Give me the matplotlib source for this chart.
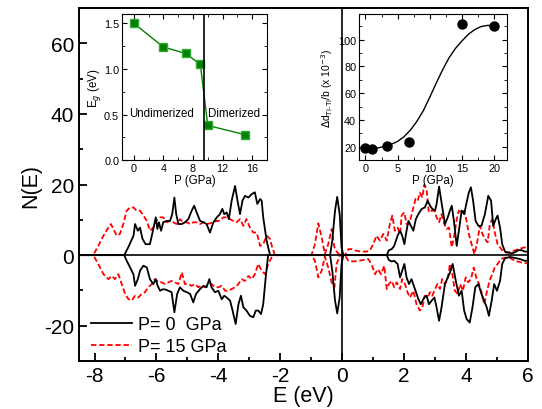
import numpy as np
import matplotlib
matplotlib.use('Agg')
import matplotlib.pyplot as plt
import matplotlib.ticker as ticker

plt.rcParams['font.family'] = ['Liberation Sans', 'DejaVu Sans']
plt.rcParams['axes.unicode_minus'] = False

# DOS, P = 0 GPa (spin up / spin down), pares (E, N)
dos_p0_up = [(-8.5, 0), (-7.04, 0), (-6.91, 2.2), (-6.74, 5.5), (-6.69, 8.8), (-6.60, 6.9), (-6.53, 7.8),
             (-6.45, 4.6), (-6.35, 3.1), (-6.21, 3.1), (-6.10, 7.4), (-6.02, 10.7), (-5.97, 7.4), (-5.92, 9.3),
             (-5.85, 6.9), (-5.78, 9.3), (-5.67, 9.7), (-5.56, 9.7), (-5.49, 11.6), (-5.42, 16.3), (-5.36, 11.6),
             (-5.29, 8.8), (-5.18, 8.8), (-5.08, 9.3), (-4.97, 10.2), (-4.86, 12.6), (-4.78, 14.0), (-4.70, 12.1),
             (-4.59, 9.7), (-4.48, 9.3), (-4.38, 8.8), (-4.27, 6.4), (-4.16, 9.3), (-4.05, 10.7), (-3.95, 11.6),
             (-3.87, 13.1), (-3.81, 11.6), (-3.73, 12.1), (-3.66, 10.2), (-3.57, 15.4), (-3.46, 19.6), (-3.38, 15.4),
             (-3.30, 11.6), (-3.22, 15.4), (-3.14, 16.8), (-3.03, 16.3), (-2.92, 17.3), (-2.82, 17.8), (-2.74, 14.5),
             (-2.65, 15.9), (-2.60, 15.4), (-2.55, 10.7), (-2.44, 4.1), (-2.33, 0),
             (-0.39, 0), (-0.32, 4.1), (-0.23, 12.6), (-0.16, 16.5), (-0.08, 11.6), (-0.02, 2.2), (0.04, 0),
             (1.44, 0), (1.51, 1.4), (1.60, 1.7), (1.68, 2.6), (1.79, 5.5), (1.87, 6.9), (1.94, 5.5), (2.01, 3.1),
             (2.08, 6.9), (2.14, 9.7), (2.22, 8.3), (2.30, 6.9), (2.38, 10.2), (2.46, 11.6), (2.57, 13.1),
             (2.67, 13.5), (2.76, 15.4), (2.84, 14.0), (2.91, 13.1), (3.00, 12.6), (3.05, 14.5), (3.13, 19.4),
             (3.21, 14.9), (3.32, 8.8), (3.41, 10.7), (3.48, 12.6), (3.54, 14.0), (3.61, 9.7), (3.70, 2.6),
             (3.77, 6.9), (3.86, 12.6), (3.94, 11.6), (4.02, 14.9), (4.09, 17.7), (4.16, 19.2), (4.23, 15.4),
             (4.31, 9.7), (4.40, 8.3), (4.50, 8.3), (4.61, 11.6), (4.72, 16.8), (4.81, 15.4), (4.88, 8.3),
             (4.96, 10.2), (5.02, 11.2), (5.10, 7.8), (5.17, 3.1), (5.26, 1.0), (5.36, 0.7), (5.47, 0.5),
             (5.58, 0.8), (5.69, 1.4), (5.80, 1.4), (5.90, 1.0), (6.03, 1.0)]

dos_p0_dn = [(-8.5, 0), (-7.04, 0), (-6.96, -1.6), (-6.85, -3.5), (-6.74, -5.5), (-6.69, -8.7), (-6.60, -6.8),
             (-6.53, -4.4), (-6.42, -3.0), (-6.31, -3.5), (-6.21, -6.8), (-6.10, -8.2), (-6.02, -6.8), (-5.96, -8.7),
             (-5.88, -10.1), (-5.81, -9.7), (-5.72, -9.7), (-5.61, -10.1), (-5.51, -10.5), (-5.42, -16.2),
             (-5.33, -11.0), (-5.24, -9.1), (-5.13, -10.1), (-5.02, -10.5), (-4.91, -11.0), (-4.81, -13.4),
             (-4.72, -11.0), (-4.59, -9.6), (-4.48, -8.7), (-4.38, -9.1), (-4.29, -6.8), (-4.22, -9.1),
             (-4.11, -10.5), (-4.00, -10.1), (-3.89, -12.5), (-3.81, -11.5), (-3.73, -12.0), (-3.62, -12.9),
             (-3.54, -15.7), (-3.44, -19.5), (-3.35, -13.9), (-3.27, -11.5), (-3.19, -14.8), (-3.09, -15.7),
             (-2.98, -17.2), (-2.87, -17.6), (-2.79, -15.7), (-2.71, -15.7), (-2.62, -16.7), (-2.55, -13.9),
             (-2.47, -6.3), (-2.39, 0),
             (-0.39, 0), (-0.32, -4.4), (-0.23, -12.9), (-0.16, -16.5), (-0.08, -12.0), (-0.02, -2.5), (0.04, 0),
             (1.44, 0), (1.51, -1.4), (1.60, -1.8), (1.68, -1.6), (1.79, -2.5), (1.87, -6.3), (1.94, -4.4),
             (2.01, -2.5), (2.08, -6.3), (2.16, -8.2), (2.24, -6.8), (2.35, -9.6), (2.46, -12.4), (2.54, -13.9),
             (2.65, -12.0), (2.73, -11.5), (2.80, -13.9), (2.89, -12.9), (2.98, -12.0), (3.05, -14.8),
             (3.13, -18.6), (3.21, -14.8), (3.32, -8.2), (3.41, -6.3), (3.48, -5.0), (3.57, -2.5), (3.66, -6.8),
             (3.77, -11.5), (3.86, -10.1), (3.94, -15.7), (4.02, -18.1), (4.12, -19.1), (4.21, -14.8),
             (4.30, -9.1), (4.40, -8.2), (4.50, -11.0), (4.67, -14.8), (4.74, -17.2), (4.83, -12.9), (4.91, -8.2),
             (5.00, -10.1), (5.10, -7.3), (5.17, -2.5), (5.26, -0.9), (5.42, -0.5), (5.58, -0.8), (5.74, -1.1),
             (5.90, -1.6), (6.03, -1.6)]

# DOS, P = 15 GPa
dos_p15_up = [(-8.5, 0), (-8.04, 0), (-7.88, 2.6), (-7.71, 5.5), (-7.55, 7.8), (-7.47, 8.8), (-7.39, 7.4),
              (-7.28, 5.5), (-7.18, 6.0), (-7.07, 8.8), (-6.96, 12.6), (-6.85, 13.5), (-6.74, 13.5), (-6.64, 12.6),
              (-6.53, 12.6), (-6.42, 11.2), (-6.31, 9.7), (-6.21, 6.9), (-6.10, 7.8), (-6.01, 9.7), (-5.88, 10.7),
              (-5.78, 10.7), (-5.67, 9.3), (-5.56, 9.7), (-5.45, 9.3), (-5.35, 8.8), (-5.24, 10.2), (-5.13, 9.3),
              (-5.02, 9.3), (-4.91, 8.8), (-4.81, 9.3), (-4.70, 9.3), (-4.59, 8.8), (-4.48, 9.3), (-4.38, 8.8),
              (-4.27, 9.0), (-4.16, 9.3), (-4.05, 9.7), (-3.95, 9.7), (-3.84, 10.7), (-3.73, 10.7), (-3.62, 10.2),
              (-3.52, 9.7), (-3.41, 9.3), (-3.30, 10.2), (-3.19, 8.3), (-3.09, 10.2), (-2.98, 7.8), (-2.87, 6.4),
              (-2.76, 6.4), (-2.65, 2.6), (-2.55, 3.1), (-2.44, 5.5), (-2.33, 4.6), (-2.26, 2.2), (-2.17, 0),
              (-0.99, 0), (-0.88, 3.1), (-0.77, 9.0), (-0.66, 5.0), (-0.56, 0.3), (-0.45, 3.1), (-0.34, 7.4),
              (-0.25, 2.2), (-0.18, 1.0), (-0.07, 0),
              (0.09, 0), (0.20, 1.7), (0.31, 1.7), (0.47, 1.2), (0.63, 1.0), (0.79, 1.0), (0.90, 1.4), (1.00, 3.1),
              (1.11, 5.5), (1.22, 4.1), (1.33, 6.0), (1.44, 4.1), (1.54, 8.8), (1.62, 11.2), (1.70, 6.9),
              (1.79, 7.8), (1.87, 6.0), (1.92, 11.2), (2.01, 12.1), (2.08, 8.8), (2.16, 8.8), (2.22, 10.7),
              (2.30, 13.5), (2.37, 15.9), (2.44, 15.4), (2.51, 17.7), (2.59, 16.3), (2.65, 19.9), (2.73, 18.3),
              (2.80, 12.1), (2.89, 12.6), (2.98, 12.6), (3.05, 10.7), (3.13, 9.3), (3.21, 11.6), (3.30, 8.8),
              (3.37, 7.4), (3.45, 7.8), (3.54, 2.2), (3.62, 5.5), (3.70, 10.2), (3.77, 12.6), (3.86, 12.1),
              (3.94, 12.6), (4.02, 9.7), (4.09, 6.0), (4.18, 3.1), (4.27, 0.3), (4.35, 3.1), (4.45, 8.3),
              (4.53, 6.0), (4.61, 4.6), (4.70, 3.6), (4.77, 8.8), (4.85, 10.2), (4.93, 6.4), (5.02, 3.1),
              (5.10, 2.2), (5.20, 1.0), (5.31, 0.7), (5.47, 1.0), (5.69, 1.7), (5.90, 2.2), (6.03, 2.2)]

dos_p15_dn = [(-8.5, 0), (-8.04, 0), (-7.88, -2.5), (-7.71, -5.4), (-7.55, -6.8), (-7.44, -5.9), (-7.34, -6.8),
              (-7.23, -5.4), (-7.12, -8.2), (-7.01, -11.0), (-6.91, -12.4), (-6.80, -12.9), (-6.69, -11.5),
              (-6.58, -12.0), (-6.48, -11.0), (-6.37, -10.5), (-6.26, -9.1), (-6.15, -8.2), (-6.05, -6.8),
              (-5.94, -7.7), (-5.83, -7.7), (-5.72, -8.2), (-5.61, -7.7), (-5.51, -7.3), (-5.40, -7.7),
              (-5.29, -8.2), (-5.18, -4.9), (-5.08, -8.2), (-4.97, -8.2), (-4.86, -8.7), (-4.75, -8.2),
              (-4.65, -9.1), (-4.54, -8.7), (-4.43, -9.1), (-4.32, -8.2), (-4.22, -8.2), (-4.11, -9.1),
              (-4.00, -9.1), (-3.89, -8.7), (-3.78, -10.1), (-3.68, -10.1), (-3.57, -9.6), (-3.46, -9.1),
              (-3.35, -8.2), (-3.25, -6.8), (-3.14, -7.3), (-3.03, -5.9), (-2.92, -6.8), (-2.82, -5.4),
              (-2.71, -2.5), (-2.60, -4.4), (-2.49, -5.4), (-2.39, -2.5), (-2.28, -0.7), (-2.17, 0),
              (-0.99, 0), (-0.88, -1.6), (-0.77, -6.3), (-0.66, -4.4), (-0.56, -0.4), (-0.45, -3.5), (-0.34, -7.7),
              (-0.25, -9.1), (-0.18, -2.5), (-0.07, 0),
              (0.09, 0), (0.20, -1.6), (0.36, -1.8), (0.52, -1.6), (0.68, -1.4), (0.84, -1.1), (0.95, -2.5),
              (1.06, -5.4), (1.15, -4.0), (1.26, -5.4), (1.36, -3.0), (1.44, -9.6), (1.51, -8.2), (1.60, -7.3),
              (1.68, -9.1), (1.76, -7.7), (1.87, -9.6), (1.94, -6.8), (2.03, -8.2), (2.11, -10.5), (2.19, -12.0),
              (2.30, -10.1), (2.40, -13.9), (2.51, -15.7), (2.59, -14.8), (2.67, -11.5), (2.76, -12.0),
              (2.84, -10.5), (2.91, -11.5), (3.00, -9.6), (3.08, -8.2), (3.16, -9.6), (3.23, -6.8), (3.32, -8.2),
              (3.41, -6.8), (3.48, -2.5), (3.56, -5.4), (3.64, -10.1), (3.73, -11.0), (3.81, -8.2), (3.90, -10.1),
              (3.99, -6.3), (4.07, -7.7), (4.16, -6.8), (4.25, -3.5), (4.33, -6.3), (4.42, -8.2), (4.50, -10.5),
              (4.59, -13.9), (4.68, -10.1), (4.76, -7.3), (4.85, -5.4), (4.93, -3.5), (5.02, -2.5), (5.13, -1.1),
              (5.26, -0.7), (5.42, -0.8), (5.58, -1.6), (5.80, -2.1), (6.03, -2.4)]

# inset 1: gap vs presion
p_gap = [0, 4, 7, 9, 10, 15]
e_gap = [1.50, 1.24, 1.17, 1.05, 0.38, 0.28]
p_transicion = 9.55

# inset 2: distancia Ti-Ti vs presion
p_dist = [0, 1, 3.3, 6.7, 15, 20]
d_titi = [18.7, 18.5, 20.4, 23.5, 112, 110]
p_ajuste = [0, 1, 2, 3, 4, 5, 6, 7, 8, 9, 10, 11, 12, 13, 14, 15, 16, 17, 18, 19, 20]
d_ajuste = [18.6, 18.7, 19.2, 20.2, 21.8, 24.0, 27.5, 32.5, 39.0, 47.0, 57.0, 67.5, 77.5, 86.5, 93.5,
            99.0, 104.0, 107.5, 109.8, 110.6, 110.5]

fig = plt.figure(figsize=(5.42, 4.10), dpi=100)
ax = fig.add_axes([0.1458, 0.117, 0.8282, 0.861])

for serie, lab in [(dos_p0_up, 'P= 0  GPa'), (dos_p0_dn, None)]:
    e, n = np.array(serie).T
    ax.plot(e, n, color='black', lw=1.3, label=lab, zorder=3)
for serie, lab in [(dos_p15_up, 'P= 15 GPa'), (dos_p15_dn, None)]:
    e, n = np.array(serie).T
    ax.plot(e, n, color='#ff0000', lw=1.3, ls=(0, (3, 1.5)), label=lab, zorder=2)

ax.axhline(0, color='black', lw=1.2, zorder=4)
ax.axvline(0, color='black', lw=1.2, zorder=4)
ax.set_xlim(-8.5, 6)
ax.set_ylim(-30, 70)
ax.xaxis.set_major_locator(ticker.MultipleLocator(2))
ax.xaxis.set_minor_locator(ticker.MultipleLocator(1))
ax.yaxis.set_major_locator(ticker.MultipleLocator(20))
ax.yaxis.set_minor_locator(ticker.MultipleLocator(10))
ax.tick_params(which='both', direction='in', labelsize=15, width=1.3)
ax.tick_params(which='major', length=6)
ax.tick_params(which='minor', length=3)
for s in ax.spines.values():
    s.set_linewidth(1.4)
ax.set_xlabel('E (eV)', fontsize=15.5, labelpad=0)
ax.set_ylabel('N(E)', fontsize=15.5, labelpad=2)
ax.legend(loc='lower left', frameon=False, fontsize=13, handlelength=2.3, handletextpad=0.3,
          labelspacing=0.3, bbox_to_anchor=(-0.01, -0.03))

# inset 1
ax1 = fig.add_axes([0.225, 0.607, 0.2675, 0.356])
ax1.plot(p_gap, e_gap, color='#008000', lw=1, marker='s', ms=6.3, mec='#33aa33', mfc='#008000')
ax1.axvline(p_transicion, color='black', lw=1.2)
ax1.set_xlim(-1.6, 18)
ax1.set_ylim(0, 1.6)
ax1.xaxis.set_major_locator(ticker.MultipleLocator(4))
ax1.xaxis.set_minor_locator(ticker.MultipleLocator(2))
ax1.yaxis.set_major_locator(ticker.MultipleLocator(0.5))
ax1.yaxis.set_minor_locator(ticker.MultipleLocator(0.25))
ax1.yaxis.set_major_formatter(ticker.FormatStrFormatter('%.1f'))
ax1.tick_params(which='both', direction='in', top=True, right=True, labelsize=7.8, pad=2)
ax1.tick_params(which='major', length=3.5)
ax1.tick_params(which='minor', length=2)
ax1.set_xlabel('P (GPa)', fontsize=8.3, labelpad=1)
ax1.set_ylabel('E$_g$ (eV)', fontsize=8.3, labelpad=1)
ax1.text(3.7, 0.52, 'Undimerized', fontsize=8.3, ha='center', va='center')
ax1.text(13.6, 0.52, 'Dimerized', fontsize=8.3, ha='center', va='center')

# inset 2
ax2 = fig.add_axes([0.6624, 0.607, 0.273, 0.356])
ax2.plot(p_ajuste, d_ajuste, color='black', lw=1)
ax2.plot(p_dist, d_titi, 'o', color='black', ms=6.5)
ax2.set_xlim(-1, 22)
ax2.set_ylim(10, 119)
ax2.xaxis.set_major_locator(ticker.MultipleLocator(5))
ax2.xaxis.set_minor_locator(ticker.MultipleLocator(2.5))
ax2.yaxis.set_major_locator(ticker.MultipleLocator(20))
ax2.yaxis.set_minor_locator(ticker.MultipleLocator(10))
ax2.tick_params(which='both', direction='in', top=True, right=True, labelsize=7.8, pad=2)
ax2.tick_params(which='major', length=3.5)
ax2.tick_params(which='minor', length=2)
ax2.set_xlabel('P (GPa)', fontsize=8.3, labelpad=1)
ax2.set_ylabel(r'$\Delta$d$_{\mathrm{Ti\text{-}Ti}}$/b (x 10$^{-3}$)', fontsize=7.5, labelpad=2)

fig.savefig('out.png', dpi=100)
